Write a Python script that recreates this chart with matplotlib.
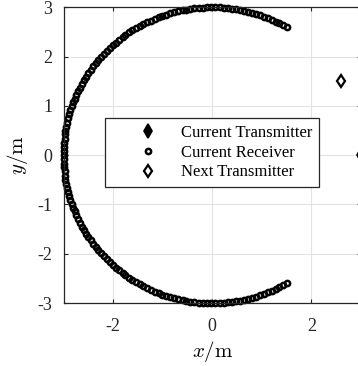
import matplotlib
matplotlib.use("Agg")
import matplotlib.pyplot as plt

# receiver positions (m), spread along a 3 m arc around the origin
rx_x = [1.50, 1.43, 1.35, 1.28, 1.20, 1.12, 1.05, 0.97, 0.89, 0.81, 0.73, 0.64, 0.56, 0.48, 0.40, 0.31,
        0.23, 0.15, 0.06, -0.02, -0.10, -0.19, -0.27, -0.36, -0.44, -0.52, -0.60, -0.69, -0.77, -0.85,
        -0.93, -1.01, -1.08, -1.16, -1.24, -1.32, -1.39, -1.46, -1.54, -1.61, -1.68, -1.75, -1.81, -1.88,
        -1.94, -2.01, -2.07, -2.13, -2.19, -2.24, -2.30, -2.35, -2.40, -2.45, -2.50, -2.54, -2.59, -2.63,
        -2.67, -2.71, -2.74, -2.77, -2.80, -2.83, -2.86, -2.88, -2.91, -2.93, -2.94, -2.96, -2.97, -2.98,
        -2.99, -3.00, -3.00, -3.00, -3.00, -3.00, -2.99, -2.98, -2.97, -2.96, -2.94, -2.93, -2.91, -2.88,
        -2.86, -2.83, -2.80, -2.77, -2.74, -2.71, -2.67, -2.63, -2.59, -2.54, -2.50, -2.45, -2.40, -2.35,
        -2.30, -2.24, -2.19, -2.13, -2.07, -2.01, -1.94, -1.88, -1.81, -1.75, -1.68, -1.61, -1.54, -1.46,
        -1.39, -1.32, -1.24, -1.16, -1.08, -1.01, -0.93, -0.85, -0.77, -0.69, -0.60, -0.52, -0.44, -0.36,
        -0.27, -0.19, -0.10, -0.02, 0.06, 0.15, 0.23, 0.31, 0.40, 0.48, 0.56, 0.64, 0.73, 0.81, 0.89,
        0.97, 1.05, 1.12, 1.20, 1.28, 1.35, 1.43, 1.50]
rx_y = [2.60, 2.64, 2.68, 2.71, 2.75, 2.78, 2.81, 2.84, 2.87, 2.89, 2.91, 2.93, 2.95, 2.96, 2.97, 2.98,
        2.99, 3.00, 3.00, 3.00, 3.00, 2.99, 2.99, 2.98, 2.97, 2.95, 2.94, 2.92, 2.90, 2.88, 2.85, 2.83,
        2.80, 2.77, 2.73, 2.70, 2.66, 2.62, 2.58, 2.53, 2.49, 2.44, 2.39, 2.34, 2.28, 2.23, 2.17, 2.11,
        2.05, 1.99, 1.93, 1.86, 1.80, 1.73, 1.66, 1.59, 1.52, 1.45, 1.37, 1.30, 1.22, 1.14, 1.07, 0.99,
        0.91, 0.83, 0.75, 0.66, 0.58, 0.50, 0.42, 0.33, 0.25, 0.17, 0.08, 0.00, -0.08, -0.17, -0.25,
        -0.33, -0.42, -0.50, -0.58, -0.66, -0.75, -0.83, -0.91, -0.99, -1.07, -1.14, -1.22, -1.30, -1.37,
        -1.45, -1.52, -1.59, -1.66, -1.73, -1.80, -1.86, -1.93, -1.99, -2.05, -2.11, -2.17, -2.23, -2.28,
        -2.34, -2.39, -2.44, -2.49, -2.53, -2.58, -2.62, -2.66, -2.70, -2.73, -2.77, -2.80, -2.83, -2.85,
        -2.88, -2.90, -2.92, -2.94, -2.95, -2.97, -2.98, -2.99, -2.99, -3.00, -3.00, -3.00, -3.00, -2.99,
        -2.98, -2.97, -2.96, -2.95, -2.93, -2.91, -2.89, -2.87, -2.84, -2.81, -2.78, -2.75, -2.71, -2.68,
        -2.64, -2.60]

tx_now = (3.0, 0.0)
tx_next = (2.6, 1.5)

x_ticks = [-2, 0, 2]
y_ticks = [-3, -2, -1, 0, 1, 2, 3]

plt.rcParams["font.family"] = ["Liberation Serif", "DejaVu Serif"]
plt.rcParams["mathtext.fontset"] = "cm"
plt.rcParams["axes.unicode_minus"] = False

fig = plt.figure(figsize=(3.58, 3.66), dpi=100)
# axes run slightly past the right edge of the canvas
ax = fig.add_axes([0.1774, 0.1721, 0.831, 0.808])

ink = "#262626"
ax.plot(tx_now[0], tx_now[1], linestyle="none", marker="d", markersize=7, markeredgewidth=1.2,
        color="black", label="Current Transmitter")
ax.plot(rx_x, rx_y, linestyle="none", marker="o", markersize=3.8, markeredgewidth=1.8,
        markerfacecolor="none", markeredgecolor="black", label="Current Receiver", clip_on=False)
ax.plot(tx_next[0], tx_next[1], linestyle="none", marker="d", markersize=6.5, markeredgewidth=1.6,
        markerfacecolor="none", markeredgecolor="black", label="Next Transmitter")

ax.set_xlim(-3, 3)
ax.set_ylim(-3, 3)
ax.set_xticks(x_ticks)
ax.set_yticks(y_ticks)
ax.set_xticklabels([str(t) for t in x_ticks])
ax.set_yticklabels([str(t) for t in y_ticks])

ax.grid(True, color="#e3e3e3", linewidth=0.8)
ax.set_axisbelow(True)
for s in ax.spines.values():
    s.set_color(ink)
    s.set_linewidth(0.9)
ax.tick_params(direction="in", length=3, width=0.8, colors=ink, labelsize=13,
               top=True, right=True, labelcolor="#262626")
ax.tick_params(axis="x", pad=11)
ax.tick_params(axis="y", pad=8)

ax.set_xlabel(r"$x/\mathrm{m}$", fontsize=15, labelpad=3)
ax.set_ylabel(r"$y/\mathrm{m}$", fontsize=15, labelpad=5)

# wide handle + negative text pad keeps the marker column well inside the box
leg = ax.legend(loc="center", bbox_to_anchor=(0.499, 0.508), fontsize=12, frameon=True,
                fancybox=False, edgecolor=ink, framealpha=1, handlelength=4.4,
                handletextpad=-0.25, borderpad=0.4, labelspacing=0.22, borderaxespad=0)
leg.get_frame().set_linewidth(0.9)

fig.savefig("out.png", dpi=100)
